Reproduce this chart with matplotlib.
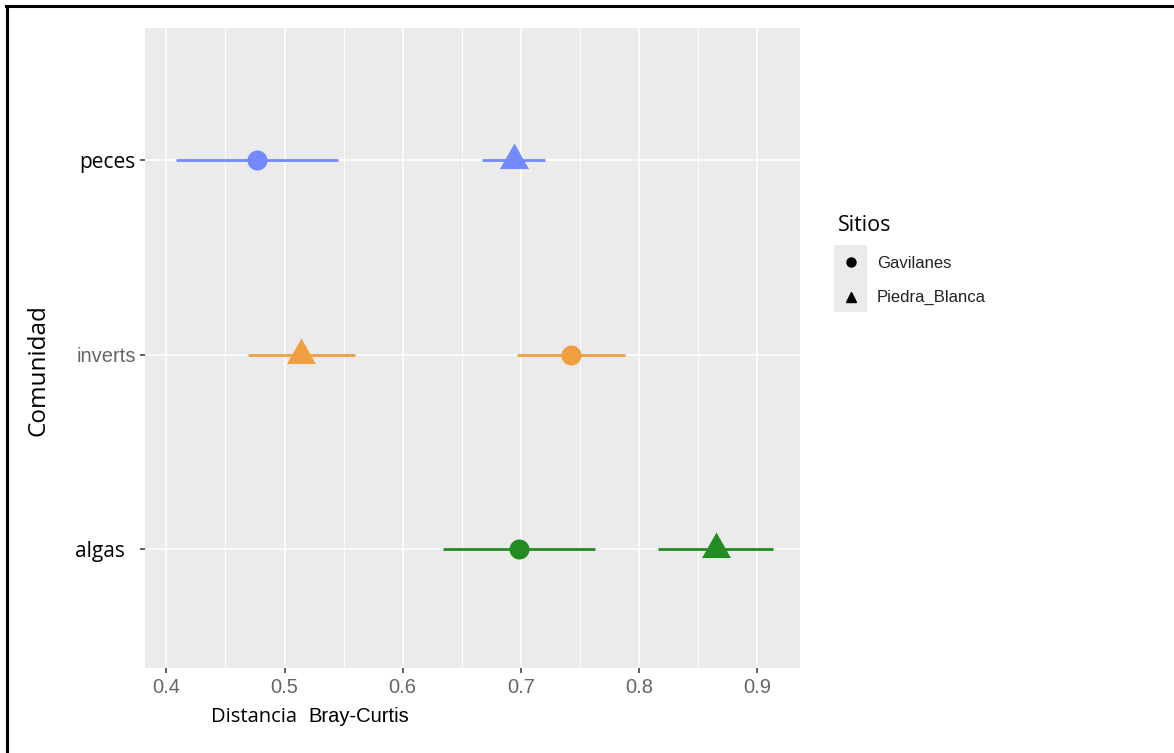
import matplotlib.pyplot as plt
import numpy as np
from matplotlib.lines import Line2D
from matplotlib.patches import Rectangle
from matplotlib.path import Path

# community rows (bottom to top) and their colours
comunidades = ["algas", "inverts", "peces"]
colores = ["#238B22", "#F09E40", "#7289FF"]

# Bray-Curtis distance: mean and interval per site
gav_media = [0.698, 0.742, 0.477]
gav_inf = [0.634, 0.697, 0.408]
gav_sup = [0.763, 0.788, 0.545]

pb_media = [0.865, 0.514, 0.694]
pb_inf = [0.816, 0.469, 0.667]
pb_sup = [0.913, 0.560, 0.720]

sitios = ["Gavilanes", "Piedra_Blanca"]
xticks = [0.4, 0.5, 0.6, 0.7, 0.8, 0.9]

W, H = 1174, 753
fig = plt.figure(figsize=(W / 100, H / 100), dpi=100)
ax = fig.add_axes([145 / W, 1 - 668 / H, 655 / W, 640 / H])
ax.set_facecolor("#EBEBEB")
for s in ax.spines.values():
    s.set_visible(False)

# ggplot-like triangle, centred on its centroid
tri = Path([(0, 15.3), (-13, -7.7), (13, -7.7), (0, 15.3)],
           [Path.MOVETO, Path.LINETO, Path.LINETO, Path.CLOSEPOLY])

y = np.arange(1, len(comunidades) + 1)
for i, yy in enumerate(y):
    c = colores[i]
    ax.plot([gav_inf[i], gav_sup[i]], [yy, yy], color=c, lw=2.0, solid_capstyle="butt", zorder=3)
    ax.plot(gav_media[i], yy, marker="o", color=c, markersize=14.4, markeredgewidth=0, zorder=4)
    ax.plot([pb_inf[i], pb_sup[i]], [yy, yy], color=c, lw=2.0, solid_capstyle="butt", zorder=3)
    ax.plot(pb_media[i], yy, marker=tri, color=c, markersize=24.5, markeredgewidth=0, zorder=4)

ax.set_xlim(0.382, 0.936)
ax.set_ylim(0.388, 3.679)
ax.set_xticks(xticks)
ax.set_xticklabels([f"{v:g}" for v in xticks], fontsize=14.5, color="#666666", family="Liberation Sans")
ax.set_xticks(np.array(xticks[:-1]) + 0.05, minor=True)
ax.set_yticks(y)
ax.set_yticklabels(["algas  ", "inverts", "peces"])
for lab, col, fam, fs in zip(ax.get_yticklabels(), ["black", "#666666", "black"],
                             ["Open Sans", "Liberation Sans", "Open Sans"], [15, 14.5, 15]):
    lab.set_color(col)
    lab.set_family(fam)
    lab.set_fontsize(fs)

ax.grid(True, which="major", color="white", lw=1.2)
ax.grid(True, which="minor", axis="x", color="white", lw=0.6)
ax.set_axisbelow(True)
ax.tick_params(axis="both", which="major", length=3.5, width=1.1, color="#333333")
ax.tick_params(axis="x", which="major", pad=4)
ax.tick_params(axis="y", which="major", pad=3)
ax.tick_params(which="minor", length=0)

fig.text(39 / W, 1 - 370 / H, "Comunidad", rotation=90, ha="center", va="center",
         fontsize=17.5, family="Open Sans", color="black")
fig.text(297 / W, 1 - 717 / H, "Distancia", ha="right", va="center",
         fontsize=14.5, family="Open Sans", color="black")
fig.text(308 / W, 1 - 716 / H, "Bray-Curtis", ha="left", va="center",
         fontsize=14.5, family="Liberation Sans", color="black")

# legend
fig.patches.append(Rectangle((834 / W, 1 - 312 / H), 33 / W, 67 / H,
                             transform=fig.transFigure, facecolor="#EBEBEB",
                             edgecolor="none", zorder=0))
handles = [Line2D([], [], ls="", marker="o", color="black", markersize=6.5),
           Line2D([], [], ls="", marker="^", color="black", markersize=7)]
leg = fig.legend(handles, sitios, loc="upper left", bbox_to_anchor=(819 / W, 1 - 196 / H),
                 frameon=False, title="Sitios", alignment="left", fontsize=12,
                 handlelength=1.6, handletextpad=0.72, labelspacing=1.18, borderpad=0.64)
leg.get_title().set_fontsize(15.5)
leg.get_title().set_family("Open Sans")
for t in leg.get_texts():
    t.set_color("#222222")
    t.set_family("Liberation Sans")

# frame lines of the original screenshot
fig.add_artist(Line2D([6 / W, 1], [1 - 6 / H, 1 - 6 / H], color="black", lw=2.2, transform=fig.transFigure))
fig.add_artist(Line2D([7 / W, 7 / W], [0, 1 - 6 / H], color="black", lw=2.2, transform=fig.transFigure))

fig.savefig("out.png", dpi=100)
